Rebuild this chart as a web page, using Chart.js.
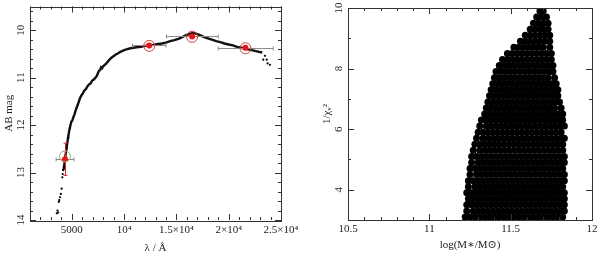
<!DOCTYPE html>
<html>
<head>
<meta charset="utf-8">
<script src="https://cdn.jsdelivr.net/npm/chart.js@4.4.0/dist/chart.umd.min.js"></script>
<style>
html, body { margin: 0; padding: 0; background: #fff; }
#wrap { position: relative; width: 600px; height: 257px; }
.box { position: absolute; top: 0; width: 300px; height: 257px; }
</style>
</head>
<body>
<div id="wrap">
  <div class="box" style="left:0"><canvas id="sed" width="300" height="257"></canvas></div>
  <div class="box" style="left:300px"><canvas id="fit" width="300" height="257"></canvas></div>
</div>
<script>
// --- left panel: model spectrum (AB mag vs wavelength)
var specLam = [4200,4300,4350,4450,4550,4650,4750,4850,4950,5050,5150,5250,5350,5450,5600,5750,5900,6050,6200,6350,
               6500,6650,6800,6950,7100,7250,7400,7500,7600,7700,7800,7900,8000,8150,8300,8450,8600,8750,8900,9050,
               9200,9400,9600,9800,10000,10300,10600,10900,11200,11600,12000,12400,12800,13200,13600,14000,14400,14800,15200,15500,
               15800,16100,16400,16700,17000,17300,17600,18000,18400,18800,19200,19600,20000,20400,20800,21200,21600,22000,22400,22800,23200];
var specMag = [12.95,12.80,12.70,12.55,12.40,12.25,12.12,12.02,11.93,11.90,11.83,11.78,11.70,11.64,11.55,11.45,11.38,11.33,11.27,11.24,
               11.18,11.14,11.12,11.06,11.04,11.00,10.96,10.90,10.85,10.84,10.78,10.80,10.76,10.73,10.70,10.66,10.62,10.59,10.56,10.54,
               10.51,10.49,10.46,10.44,10.42,10.40,10.38,10.37,10.36,10.35,10.33,10.32,10.31,10.29,10.28,10.26,10.23,10.21,10.18,10.15,
               10.12,10.09,10.07,10.06,10.08,10.11,10.14,10.17,10.20,10.23,10.25,10.28,10.30,10.32,10.35,10.37,10.39,10.41,10.43,10.45,10.47];
// sparse points at the blue and red ends
var blueLam = [3560,3620,3700,3760,3800,3870,3950,4030,4090,4125,4170,4250,4510,4660,4820];
var blueMag = [13.86,13.80,13.84,13.62,13.58,13.52,13.45,13.34,13.10,13.03,12.95,12.89,12.48,12.27,12.06];
var tailLam = [23300,23470,23630,23720,23940];
var tailMag = [10.62,10.54,10.62,10.70,10.73];

// photometry: observed points, band widths, errors, model magnitudes
var photLam  = [4346, 12400, 16500, 21600];
var photMag  = [12.72, 10.32, 10.13, 10.37];
var photErr  = [0.34, 0.02, 0.02, 0.02];
var bandLo   = [3500, 10800, 14050, 19000];
var bandHi   = [5200, 14000, 19000, 24250];
var modelMag = [12.66, 10.33, 10.14, 10.38];

var lamTicks  = [5000, 10000, 15000, 20000, 25000];
var lamLabels = ['5000', '10\u2074', '1.5\u00d710\u2074', '2\u00d710\u2074', '2.5\u00d710\u2074'];
var magTicks  = [10, 11, 12, 13, 14];

// --- right panel: 1/chi^2 vs log stellar mass, one row of fits per chi level
var chiRows = [3.1,3.3,3.5,3.7,3.9,4.1,4.3,4.5,4.7,4.9,5.1,5.3,5.5,5.7,5.9,6.1,6.3,6.5,6.7,6.9,
               7.1,7.3,7.5,7.7,7.9,8.1,8.3,8.5,8.7,8.9,9.1,9.3,9.5,9.7,9.9,9.97];
var massRows = [
  [11.22,11.25,11.28,11.31,11.34,11.37,11.40,11.43,11.46,11.49,11.52,11.55,11.58,11.61,11.64,11.67,11.70,11.73,11.76,11.79,11.82],
  [11.23,11.27,11.30,11.33,11.36,11.39,11.42,11.45,11.48,11.51,11.54,11.57,11.60,11.63,11.66,11.69,11.72,11.75,11.78,11.81,11.83],
  [11.23,11.26,11.29,11.32,11.35,11.38,11.41,11.44,11.47,11.50,11.53,11.56,11.59,11.62,11.65,11.68,11.71,11.74,11.77,11.80,11.83],
  [11.24,11.27,11.30,11.33,11.36,11.39,11.42,11.45,11.48,11.51,11.54,11.57,11.60,11.63,11.66,11.69,11.72,11.75,11.78,11.81,11.83],
  [11.23,11.26,11.29,11.32,11.35,11.38,11.41,11.44,11.47,11.50,11.53,11.56,11.59,11.62,11.65,11.68,11.71,11.74,11.77,11.80,11.83],
  [11.24,11.28,11.31,11.34,11.37,11.40,11.43,11.46,11.49,11.52,11.55,11.58,11.61,11.64,11.67,11.70,11.73,11.76,11.79,11.82],
  [11.24,11.27,11.30,11.33,11.36,11.39,11.42,11.45,11.48,11.51,11.54,11.57,11.60,11.63,11.66,11.69,11.72,11.75,11.78,11.81,11.83],
  [11.25,11.29,11.32,11.35,11.38,11.41,11.44,11.47,11.50,11.53,11.56,11.59,11.62,11.65,11.68,11.71,11.74,11.77,11.80,11.83],
  [11.25,11.28,11.31,11.34,11.37,11.40,11.43,11.46,11.49,11.52,11.55,11.58,11.61,11.64,11.67,11.70,11.73,11.76,11.79,11.82],
  [11.26,11.30,11.33,11.36,11.39,11.42,11.45,11.48,11.51,11.54,11.57,11.60,11.63,11.66,11.69,11.72,11.75,11.78,11.81,11.83],
  [11.26,11.29,11.32,11.35,11.38,11.41,11.44,11.47,11.50,11.53,11.56,11.59,11.62,11.65,11.68,11.71,11.74,11.77,11.80,11.83],
  [11.27,11.31,11.34,11.37,11.40,11.43,11.46,11.49,11.52,11.55,11.58,11.61,11.64,11.67,11.70,11.73,11.76,11.79,11.82],
  [11.28,11.31,11.34,11.37,11.40,11.43,11.46,11.49,11.52,11.55,11.58,11.61,11.64,11.67,11.70,11.73,11.76,11.79,11.82],
  [11.29,11.33,11.36,11.39,11.42,11.45,11.48,11.51,11.54,11.57,11.60,11.63,11.66,11.69,11.72,11.75,11.78,11.81,11.83],
  [11.30,11.33,11.36,11.39,11.42,11.45,11.48,11.51,11.54,11.57,11.60,11.63,11.66,11.69,11.72,11.75,11.78,11.81],
  [11.31,11.35,11.38,11.41,11.44,11.47,11.50,11.53,11.56,11.59,11.62,11.65,11.68,11.71,11.74,11.77,11.80,11.83],
  [11.32,11.35,11.38,11.41,11.44,11.47,11.50,11.53,11.56,11.59,11.62,11.65,11.68,11.71,11.74,11.77,11.80,11.82],
  [11.34,11.37,11.40,11.43,11.46,11.49,11.52,11.55,11.58,11.61,11.64,11.67,11.70,11.73,11.76,11.79,11.82],
  [11.35,11.38,11.41,11.44,11.47,11.50,11.53,11.56,11.59,11.62,11.65,11.68,11.71,11.74,11.77,11.81],
  [11.36,11.39,11.42,11.45,11.48,11.51,11.54,11.57,11.60,11.63,11.66,11.69,11.72,11.75,11.78,11.80],
  [11.37,11.40,11.43,11.46,11.49,11.52,11.55,11.58,11.61,11.64,11.67,11.70,11.73,11.76,11.79],
  [11.38,11.41,11.44,11.47,11.50,11.53,11.56,11.59,11.62,11.65,11.68,11.71,11.74,11.77,11.79],
  [11.39,11.42,11.45,11.48,11.51,11.54,11.57,11.60,11.63,11.66,11.69,11.72,11.75,11.78],
  [11.40,11.43,11.46,11.49,11.52,11.55,11.58,11.61,11.64,11.67,11.70,11.73,11.77],
  [11.41,11.44,11.47,11.50,11.53,11.56,11.59,11.62,11.65,11.68,11.71,11.74,11.76],
  [11.43,11.46,11.49,11.52,11.55,11.58,11.61,11.64,11.67,11.70,11.73,11.76],
  [11.45,11.48,11.51,11.54,11.57,11.60,11.63,11.66,11.69,11.72,11.75],
  [11.48,11.51,11.54,11.57,11.60,11.63,11.66,11.69,11.72,11.75],
  [11.52,11.55,11.58,11.61,11.64,11.67,11.70,11.74],
  [11.56,11.59,11.62,11.65,11.68,11.71,11.74],
  [11.59,11.62,11.65,11.68,11.71,11.74],
  [11.62,11.65,11.68,11.70,11.73],
  [11.64,11.67,11.70,11.73],
  [11.66,11.69,11.72],
  [11.68,11.70],
  [11.69]
];
var massTicks = [10.5, 11, 11.5, 12];
var chiTicks  = [4, 6, 8, 10];

var FONT = { family: '"Liberation Serif", "DejaVu Serif", serif', size: 11 };
var INK = '#222';

function pairs(xs, ys) {
  return xs.map(function(x, i) { return { x: x, y: ys[i] }; });
}

// box frame with inward ticks on all four sides (PGPLOT look)
var frameTicks = {
  id: 'frameTicks',
  afterDraw: function(chart, args, opts) {
    var ctx = chart.ctx, a = chart.chartArea, sx = chart.scales.x, sy = chart.scales.y;
    ctx.save();
    ctx.strokeStyle = '#333';
    ctx.lineWidth = 1;
    ctx.strokeRect(Math.round(a.left) + 0.5, Math.round(a.top) + 0.5,
                   Math.round(a.right - a.left), Math.round(a.bottom - a.top));
    ctx.beginPath();
    function xt(v, len) {
      var p = Math.round(sx.getPixelForValue(v)) + 0.5;
      ctx.moveTo(p, a.bottom); ctx.lineTo(p, a.bottom - len);
      ctx.moveTo(p, a.top); ctx.lineTo(p, a.top + len);
    }
    function yt(v, len) {
      var p = Math.round(sy.getPixelForValue(v)) + 0.5;
      ctx.moveTo(a.left, p); ctx.lineTo(a.left + len, p);
      ctx.moveTo(a.right, p); ctx.lineTo(a.right - len, p);
    }
    var k, v;
    for (k = Math.ceil(sx.min / opts.xMinor - 1e-6); (v = k * opts.xMinor) <= sx.max + 1e-6; k++) xt(v, 3);
    for (k = Math.ceil(sy.min / opts.yMinor - 1e-6); (v = k * opts.yMinor) <= sy.max + 1e-6; k++) yt(v, 3);
    sx.ticks.forEach(function(t) { xt(t.value, 6); });
    sy.ticks.forEach(function(t) { yt(t.value, 6); });
    ctx.stroke();
    ctx.restore();
  }
};

// band widths (grey) and magnitude errors (red), drawn right after the spectrum
var photBars = {
  id: 'photBars',
  afterDatasetDraw: function(chart, args) {
    if (chart.data.datasets[args.index].label !== 'spectrum') return;
    var ctx = chart.ctx, sx = chart.scales.x, sy = chart.scales.y;
    ctx.save();
    ctx.lineWidth = 1;
    photLam.forEach(function(l, i) {
      var py = Math.round(sy.getPixelForValue(photMag[i])) + 0.5;
      var x0 = sx.getPixelForValue(bandLo[i]), x1 = sx.getPixelForValue(bandHi[i]);
      ctx.strokeStyle = '#8c8c8c';
      ctx.beginPath();
      ctx.moveTo(x0, py); ctx.lineTo(x1, py);
      ctx.moveTo(x0, py - 2); ctx.lineTo(x0, py + 2);
      ctx.moveTo(x1, py - 2); ctx.lineTo(x1, py + 2);
      ctx.stroke();
      var px = Math.round(sx.getPixelForValue(l)) + 0.5;
      var y0 = sy.getPixelForValue(photMag[i] - photErr[i]), y1 = sy.getPixelForValue(photMag[i] + photErr[i]);
      ctx.strokeStyle = '#e0202a';
      ctx.beginPath();
      ctx.moveTo(px, y0); ctx.lineTo(px, y1);
      ctx.moveTo(px - 2, y0); ctx.lineTo(px + 2, y0);
      ctx.moveTo(px - 2, y1); ctx.lineTo(px + 2, y1);
      ctx.stroke();
    });
    ctx.restore();
  }
};

function axisCommon() {
  return {
    type: 'linear',
    grid: { display: false, drawTicks: false },
    border: { display: false }
  };
}

new Chart(document.getElementById('sed'), {
  type: 'scatter',
  data: {
    datasets: [
      { label: 'model', data: pairs(photLam, modelMag), pointRadius: 5.5, borderWidth: 1,
        backgroundColor: 'rgba(0,0,0,0)', borderColor: ['#9aa86a', '#d8403a', '#d8403a', '#d8403a'] },
      { label: 'obs', data: pairs(photLam, photMag), pointRadius: 3, borderWidth: 0,
        backgroundColor: '#e8141c' },
      { label: 'tail', data: pairs(tailLam, tailMag), pointRadius: 1.1, borderWidth: 0, backgroundColor: '#000' },
      { label: 'blue', data: pairs(blueLam, blueMag), pointRadius: 1.1, borderWidth: 0, backgroundColor: '#000' },
      { label: 'spectrum', data: pairs(specLam, specMag), showLine: true, pointRadius: 0,
        borderColor: '#111', borderWidth: 2.4, tension: 0 }
    ]
  },
  options: {
    responsive: false,
    animation: false,
    events: [],
    layout: { padding: { left: 0, top: 3, right: 19, bottom: 0 } },
    plugins: { legend: { display: false }, tooltip: { enabled: false },
               frameTicks: { xMinor: 1000, yMinor: 0.2 } },
    scales: {
      x: Object.assign(axisCommon(), {
        min: 1000, max: 25000,
        afterBuildTicks: function(s) { s.ticks = lamTicks.map(function(v) { return { value: v }; }); },
        afterFit: function(s) { s.height = 37; s.paddingLeft = 0; s.paddingRight = 0; },
        ticks: { color: INK, font: FONT, padding: 4, maxRotation: 0, autoSkip: false,
                 callback: function(v) { return lamLabels[lamTicks.indexOf(v)]; } },
        title: { display: true, text: 'λ / Å', color: INK, font: FONT, padding: { top: 0, bottom: 2 } }
      }),
      y: Object.assign(axisCommon(), {
        min: 9.5, max: 14, reverse: true,
        afterBuildTicks: function(s) { s.ticks = magTicks.map(function(v) { return { value: v }; }); },
        afterFit: function(s) { s.width = 30; s.paddingTop = 0; s.paddingBottom = 0; },
        ticks: { color: INK, font: FONT, padding: 3, minRotation: 90, maxRotation: 90,
                 crossAlign: 'center', autoSkip: false },
        title: { display: true, text: 'AB mag', color: INK, font: FONT, padding: { top: 3, bottom: 0 } }
      })
    }
  },
  plugins: [frameTicks, photBars]
});

var cloud = [];
chiRows.forEach(function(c, i) {
  massRows[i].forEach(function(m) { cloud.push({ x: m, y: c }); });
});

new Chart(document.getElementById('fit'), {
  type: 'scatter',
  data: {
    datasets: [
      { label: 'fits', data: cloud, pointRadius: 3.5, borderWidth: 0, backgroundColor: '#000', clip: 0 }
    ]
  },
  options: {
    responsive: false,
    animation: false,
    events: [],
    layout: { padding: { left: 18, top: 8, right: 8, bottom: 0 } },
    plugins: { legend: { display: false }, tooltip: { enabled: false },
               frameTicks: { xMinor: 0.1, yMinor: 1 } },
    scales: {
      x: Object.assign(axisCommon(), {
        min: 10.5, max: 12,
        afterBuildTicks: function(s) { s.ticks = massTicks.map(function(v) { return { value: v }; }); },
        afterFit: function(s) { s.height = 37; s.paddingLeft = 0; s.paddingRight = 0; },
        ticks: { color: INK, font: FONT, padding: 3, maxRotation: 0, autoSkip: false,
                 callback: function(v) { return String(v); } },
        title: { display: true, text: 'log(M\u2217/M\u2299)', color: INK, font: FONT, padding: { top: 0, bottom: 5 } }
      }),
      y: Object.assign(axisCommon(), {
        min: 3, max: 10,
        afterBuildTicks: function(s) { s.ticks = chiTicks.map(function(v) { return { value: v }; }); },
        afterFit: function(s) { s.width = 30; s.paddingTop = 0; s.paddingBottom = 0; },
        ticks: { color: INK, font: FONT, padding: 3.5, minRotation: 90, maxRotation: 90,
                 crossAlign: 'center', autoSkip: false },
        title: { display: true, text: '1/\u03c7\u1d65\u00b2', color: INK, font: FONT, padding: { top: 2.5, bottom: 0 } }
      })
    }
  },
  plugins: [frameTicks]
});
</script>
</body>
</html>
